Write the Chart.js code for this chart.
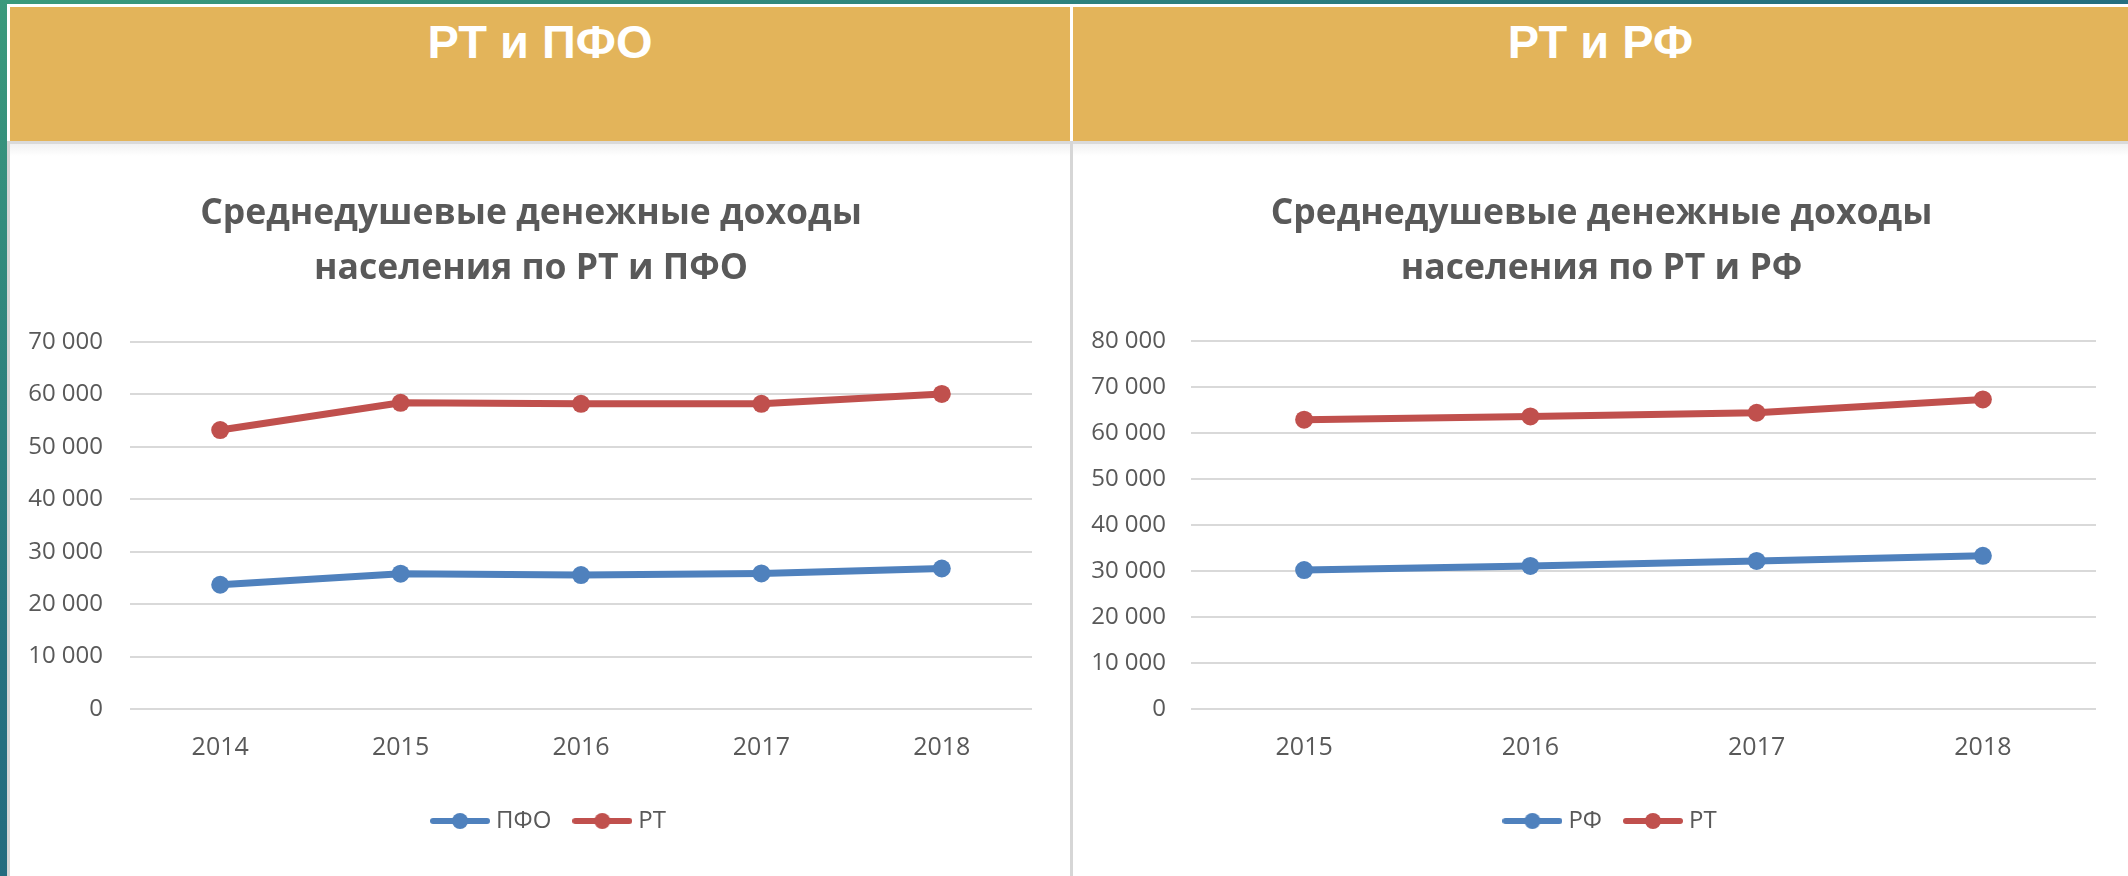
<!DOCTYPE html>
<html lang="ru">
<head>
<meta charset="utf-8">
<title>Среднедушевые денежные доходы</title>
<script src="https://cdn.jsdelivr.net/npm/chart.js@4.4.1/dist/chart.umd.min.js"></script>
<style>
  html, body { margin: 0; padding: 0; }
  body {
    width: 2128px; height: 876px; position: relative; overflow: hidden;
    background: linear-gradient(160deg, #3a9a7c 0%, #26717f 40%, #1b5a80 100%);
  }
  .frame { position: absolute; left: 7px; top: 4px; width: 2121px; height: 872px; background: #fff; }
  .head {
    position: absolute; top: 7px; height: 134px; background: #e3b45a;
    color: #fff; font: bold 47px "Liberation Sans", Arial, sans-serif;
    text-align: center; line-height: 54px; box-sizing: border-box; padding-top: 8px;
  }
  .sep { position: absolute; left: 10px; top: 141px; width: 2118px; height: 3px; background: #dadada; }
  .fade { position: absolute; left: 10px; top: 144px; width: 2118px; height: 12px;
    background: linear-gradient(#f1f1f1, #fff); }
  .vline { position: absolute; top: 141px; width: 3px; height: 735px; background: #d6d6d6; }
  canvas { position: absolute; top: 144px; }
</style>
</head>
<body>
<div class="frame"></div>
<div class="head" style="left:10px;width:1060px;">РТ и ПФО</div>
<div class="head" style="left:1073px;width:1055px;">РТ и РФ</div>
<div class="sep"></div>
<div class="fade"></div>
<div class="vline" style="left:7px;"></div>
<div class="vline" style="left:1070px;"></div>
<canvas id="chartLeft" width="1060" height="732" style="left:10px;width:1060px;height:732px;"></canvas>
<canvas id="chartRight" width="1055" height="732" style="left:1073px;width:1055px;height:732px;"></canvas>

<script>
// data (rubles per month)
const yearsPfo = ['2014', '2015', '2016', '2017', '2018'];
const incomePfo = [23700, 25800, 25550, 25850, 26800];
const incomeRtPfo = [53200, 58400, 58200, 58200, 60100];

const yearsRf = ['2015', '2016', '2017', '2018'];
const incomeRf = [30200, 31100, 32200, 33300];
const incomeRtRf = [62900, 63600, 64400, 67300];

const titleLines = ['Среднедушевые денежные доходы'];
const BLUE = '#4f81bd';
const RED = '#c0504d';
const GREY_TEXT = '#595959';
const FONT = "'Open Sans', 'Noto Sans', sans-serif";

// little line-with-dot picture used as legend symbol
function legendIcon(color) {
  const c = document.createElement('canvas');
  c.width = 60;
  c.height = 18;
  const ctx = c.getContext('2d');
  ctx.strokeStyle = color;
  ctx.lineWidth = 6;
  ctx.lineCap = 'round';
  ctx.beginPath();
  ctx.moveTo(3, 9);
  ctx.lineTo(57, 9);
  ctx.stroke();
  ctx.fillStyle = color;
  ctx.beginPath();
  ctx.arc(30, 9, 8, 0, Math.PI * 2);
  ctx.fill();
  return c;
}
const icons = [legendIcon(BLUE), legendIcon(RED)];

function spaced(v) {
  return String(v).replace(/\B(?=(\d{3})+(?!\d))/g, ' ');
}

// nudge title and legend sideways (excel centres them a bit off the canvas middle)
function shiftBoxes(titleDx, legendDx) {
  return {
    id: 'shiftBoxes',
    afterLayout(chart) {
      chart.titleBlock.left += titleDx;
      chart.titleBlock.right += titleDx;
      chart.legend.left += legendDx;
      chart.legend.right += legendDx;
    }
  };
}

function makeChart(canvasId, labels, blueName, blueData, redData, yMax, sizes) {
  return new Chart(document.getElementById(canvasId), {
    type: 'line',
    data: {
      labels: labels,
      datasets: [{
        label: blueName,
        data: blueData,
        borderColor: BLUE,
        backgroundColor: BLUE,
        borderWidth: 7,
        pointRadius: 9,
        pointHoverRadius: 9,
        pointBorderWidth: 0,
        tension: 0
      }, {
        label: 'РТ',
        data: redData,
        borderColor: RED,
        backgroundColor: RED,
        borderWidth: 7,
        pointRadius: 9,
        pointHoverRadius: 9,
        pointBorderWidth: 0,
        tension: 0
      }]
    },
    plugins: [shiftBoxes(sizes.titleDx, sizes.legendDx)],
    options: {
      responsive: false,
      animation: false,
      layout: { padding: { left: 0, right: sizes.right, top: 0, bottom: 33 } },
      plugins: {
        title: {
          display: true,
          text: [titleLines[0], 'населения по РТ и ' + sizes.region],
          color: GREY_TEXT,
          font: { family: FONT, size: 35.5, weight: 'bold', lineHeight: 55 / 35.5 },
          padding: { top: 42, bottom: sizes.titleBottom }
        },
        legend: {
          position: 'bottom',
          labels: {
            color: GREY_TEXT,
            font: { family: FONT, size: 24 },
            usePointStyle: true,
            pointStyleWidth: 48,
            padding: 27,
            generateLabels(chart) {
              const items = Chart.defaults.plugins.legend.labels.generateLabels(chart);
              items.forEach((it, i) => { it.pointStyle = icons[i]; });
              return items;
            }
          }
        },
        tooltip: { enabled: false }
      },
      scales: {
        x: {
          offset: true,
          grid: { display: false, drawTicks: false, offset: true },
          border: { display: false },
          ticks: { color: GREY_TEXT, font: { family: FONT, size: 25 }, padding: 24 },
          afterFit(axis) { axis.height = 73; }
        },
        y: {
          min: 0,
          max: yMax,
          grid: { color: '#d9d9d9', lineWidth: 2, drawTicks: false },
          border: { display: false },
          ticks: {
            stepSize: 10000,
            color: GREY_TEXT,
            font: { family: FONT, size: 24 },
            padding: sizes.tickPad,
            callback: v => spaced(v)
          },
          afterFit(axis) { axis.width = sizes.axisWidth; }
        }
      }
    }
  });
}

makeChart('chartLeft', yearsPfo, 'ПФО', incomePfo, incomeRtPfo, 70000,
  { right: 38, axisWidth: 120, tickPad: 27, titleBottom: 46, region: 'ПФО', titleDx: 10, legendDx: 30 });
makeChart('chartRight', yearsRf, 'РФ', incomeRf, incomeRtRf, 80000,
  { right: 32, axisWidth: 118, tickPad: 25, titleBottom: 45, region: 'РФ', titleDx: 17, legendDx: 28 });
</script>
</body>
</html>
